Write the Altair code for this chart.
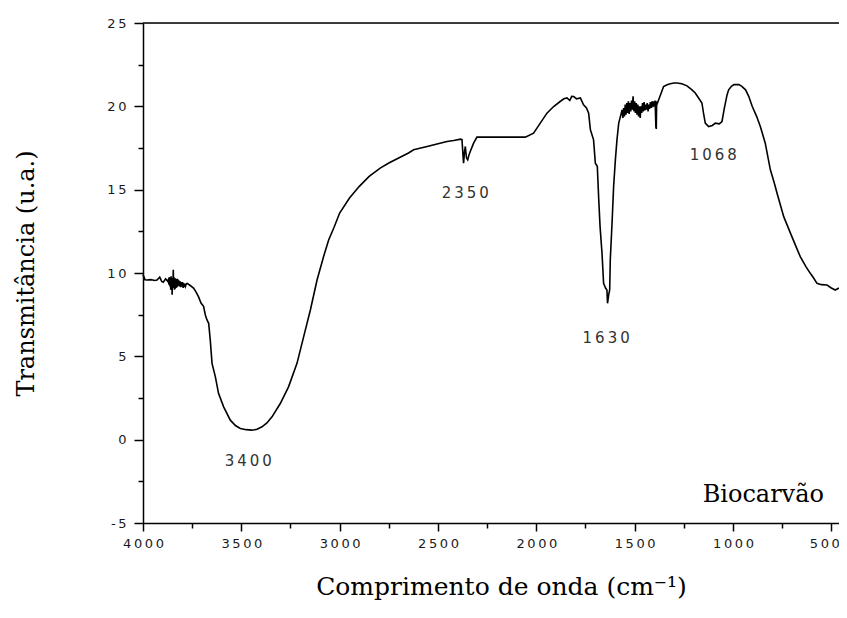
import altair as alt
import pandas as pd

# ---- spectrum, segment by segment ----
wn_a = [4000, 3990, 3980, 3960, 3940, 3929, 3915, 3905, 3897, 3885, 3875]
t_a = [9.9, 9.6, 9.58, 9.6, 9.55, 9.58, 9.75, 9.5, 9.45, 9.65, 9.5]

# noisy block near 3850
wn_b = [3871, 3868, 3866, 3863, 3861, 3859, 3857, 3855, 3853, 3852, 3850, 3848, 3846,
        3844, 3842, 3840, 3838, 3836, 3834, 3832, 3830, 3828, 3826, 3824, 3822, 3820,
        3817, 3814, 3811, 3808, 3805, 3802, 3799, 3796, 3793, 3790, 3787, 3784, 3780]
t_b = [9.6, 9.3, 9.75, 9.2, 9.7, 9.0, 9.8, 9.1, 9.7, 8.7, 9.6, 9.2, 10.2,
       9.1, 9.75, 9.0, 9.7, 9.05, 9.65, 9.1, 9.6, 9.15, 9.65, 9.2, 9.6, 9.25,
       9.55, 9.2, 9.5, 9.15, 9.45, 9.2, 9.45, 9.1, 9.4, 9.15, 9.35, 9.2, 9.35]

# O-H band
wn_c = [3775, 3760, 3743, 3730, 3718, 3705, 3692, 3683, 3675, 3666, 3658, 3649, 3632,
        3616, 3590, 3556, 3530, 3505, 3475, 3446, 3420, 3395, 3370, 3344, 3302, 3260,
        3217, 3183, 3149, 3115, 3082, 3056, 3030, 3000, 2950, 2900, 2850, 2794, 2750,
        2700, 2650, 2624, 2550, 2500, 2454, 2420, 2386]
t_c = [9.38, 9.25, 9.1, 8.85, 8.58, 8.2, 8.0, 7.48, 7.2, 6.98, 5.98, 4.58, 3.77,
       2.78, 1.97, 1.17, 0.85, 0.67, 0.6, 0.57, 0.62, 0.77, 1.0, 1.37, 2.17, 3.17,
       4.58, 6.18, 7.78, 9.58, 10.98, 11.98, 12.7, 13.6, 14.5, 15.2, 15.8, 16.29, 16.6,
       16.9, 17.2, 17.39, 17.6, 17.75, 17.89, 17.95, 18.03]

# CO2 dip, plateau, 1630 band
wn_d = [2378, 2372, 2370, 2365, 2361, 2355, 2349, 2342, 2336, 2319, 2302, 2200, 2100,
        2056, 2014, 1980, 1946, 1912, 1879, 1860, 1844, 1830, 1820, 1810, 1795, 1776,
        1760, 1745, 1734, 1725, 1709, 1700, 1690, 1683, 1676, 1666, 1658, 1648, 1641,
        1638, 1632, 1627, 1624, 1615, 1607, 1598, 1590, 1581, 1570, 1564]
t_d = [18.0, 16.9, 16.59, 17.3, 17.59, 16.9, 16.79, 17.1, 17.29, 17.79, 18.15, 18.15, 18.15,
       18.15, 18.39, 18.99, 19.59, 19.99, 20.29, 20.45, 20.5, 20.35, 20.6, 20.59, 20.45, 20.5,
       20.09, 19.9, 19.59, 18.59, 17.99, 16.59, 16.4, 14.5, 12.8, 11.18, 9.38, 9.1, 8.98,
       8.18, 8.7, 8.98, 10.78, 13.0, 15.19, 16.8, 17.99, 18.99, 19.5, 19.79]

# noisy block 1560-1380
wn_e = [1560, 1556, 1552, 1548, 1544, 1540, 1536, 1532, 1528, 1524, 1520, 1516, 1512,
        1508, 1504, 1500, 1496, 1492, 1488, 1484, 1480, 1476, 1472, 1468, 1464, 1460,
        1456, 1452, 1448, 1444, 1440, 1436, 1432, 1428, 1424, 1420, 1416, 1412, 1408,
        1404, 1400, 1396, 1392, 1390, 1388, 1384, 1378]
t_e = [19.3, 19.9, 19.4, 20.1, 19.5, 20.2, 19.6, 20.3, 19.55, 20.2, 19.7, 20.35, 19.8,
       20.6, 19.7, 20.3, 19.6, 20.2, 19.5, 20.1, 19.4, 20.0, 19.3, 20.0, 19.6, 20.2,
       19.7, 20.25, 19.75, 20.1, 19.8, 20.2, 19.7, 20.1, 19.85, 20.25, 19.9, 20.3, 19.95,
       20.3, 20.0, 20.35, 18.7, 18.69, 20.3, 20.2, 20.4]

# 1068 band and tail
wn_f = [1365, 1353, 1335, 1319, 1300, 1285, 1260, 1234, 1210, 1192, 1175, 1158, 1150,
        1141, 1124, 1105, 1090, 1070, 1056, 1044, 1030, 1022, 1008, 995, 970, 955,
        936, 920, 902, 880, 861, 836, 810, 790, 776, 742, 708, 680, 658,
        630, 607, 590, 573, 550, 522, 500, 480, 461]
t_f = [20.8, 21.19, 21.3, 21.35, 21.4, 21.4, 21.35, 21.23, 21.0, 20.8, 20.5, 20.2, 19.6,
       18.99, 18.79, 18.85, 18.99, 18.95, 19.09, 19.89, 20.7, 20.99, 21.2, 21.3, 21.3, 21.2,
       20.99, 20.6, 19.99, 19.4, 18.79, 17.79, 16.19, 15.4, 14.79, 13.38, 12.39, 11.6, 10.98,
       10.4, 9.98, 9.7, 9.38, 9.3, 9.28, 9.1, 8.98, 9.1]

wavenumber = wn_a + wn_b + wn_c + wn_d + wn_e + wn_f
transmittance = t_a + t_b + t_c + t_d + t_e + t_f

# ---- band labels ----
ann_text = ["3400", "2350", "1630", "1068"]
ann_x = [3465, 2361, 1645, 1100]
ann_y = [-1.3, 14.8, 6.1, 17.1]

sample_text = ["Biocarvão"]
sample_x = [846]
sample_y = [-3.3]

# ---- ticks ----
x_major = [4000, 3500, 3000, 2500, 2000, 1500, 1000, 500]
x_minor = [3750, 3250, 2750, 2250, 1750, 1250, 750]
y_major = [-5, 0, 5, 10, 15, 20, 25]
y_minor = [-2.5, 2.5, 7.5, 12.5, 17.5, 22.5]

THIN = "\u2009"
spectrum = pd.DataFrame({"wn": wavenumber, "t": transmittance})
ann = pd.DataFrame({"label": [THIN.join(list(s)) for s in ann_text], "wn": ann_x, "t": ann_y})
sample = pd.DataFrame({"label": sample_text, "wn": sample_x, "t": sample_y})

W, H = 696, 500
xscale = alt.Scale(domain=[461, 4000], reverse=True, nice=False, zero=False)
yscale = alt.Scale(domain=[-5, 25], nice=False, zero=False)

label_expr = "join(split(toString(datum.value), ''), '" + THIN + "')"

common = dict(domainColor="black", domainWidth=1.5, tickColor="black", tickWidth=1.5,
              grid=False, labelFont="DejaVu Sans", labelFontSize=13, labelColor="#1a1a1a",
              titleFont="DejaVu Serif", titleFontWeight="normal", titleColor="black")

line = alt.Chart(spectrum).mark_line(color="black", strokeWidth=1.6, interpolate="linear").encode(
    x=alt.X("wn:Q", scale=xscale,
            axis=alt.Axis(values=x_major, orient="bottom", title="Comprimento de onda (cm⁻¹)",
                          labelExpr=label_expr, tickSize=8, labelPadding=6, titlePadding=24,
                          titleFontSize=25, titleX=358, titleAlign="center",
                          labelAlign={"condition": {"test": "datum.value == 500", "value": "right"},
                                      "value": "center"},
                          labelOffset={"condition": {"test": "datum.value == 500", "value": 8},
                                       "value": 0},
                          **common)),
    y=alt.Y("t:Q", scale=yscale,
            axis=alt.Axis(values=y_major, orient="left", title="Transmitância (u.a.)",
                          labelExpr=label_expr, tickSize=9, labelPadding=8, titlePadding=68,
                          titleFontSize=24, **common)),
)

minor = alt.Chart(spectrum).mark_point(opacity=0).encode(
    x=alt.X("wn:Q", scale=xscale,
            axis=alt.Axis(values=x_minor, orient="bottom", title=None, labels=False,
                          domain=False, tickSize=5, tickColor="black", tickWidth=1.5, grid=False)),
    y=alt.Y("t:Q", scale=yscale,
            axis=alt.Axis(values=y_minor, orient="left", title=None, labels=False,
                          domain=False, tickSize=5, tickColor="black", tickWidth=1.5, grid=False)),
)

top = alt.Chart(pd.DataFrame({"a": [0]})).mark_rule(color="black", strokeWidth=1.5).encode(
    x=alt.value(0), x2=alt.value(W), y=alt.value(0)
)

ann_layer = alt.Chart(ann).mark_text(font="DejaVu Sans", fontSize=15, color="#333333").encode(
    x=alt.X("wn:Q", scale=xscale, axis=None),
    y=alt.Y("t:Q", scale=yscale, axis=None),
    text="label:N",
)

sample_layer = alt.Chart(sample).mark_text(font="DejaVu Serif", fontSize=24, color="black").encode(
    x=alt.X("wn:Q", scale=xscale, axis=None),
    y=alt.Y("t:Q", scale=yscale, axis=None),
    text="label:N",
)

chart = alt.layer(line, minor, top, ann_layer, sample_layer).resolve_axis(
    x="independent", y="independent"
).properties(
    width=W, height=H,
    autosize=alt.AutoSizeParams(type="none"),
    padding={"left": 135, "top": 15, "right": 0, "bottom": 85},
).configure_view(stroke=None).configure(background="white")

chart.save("out.html", embed_options={"renderer": "svg", "actions": False})
